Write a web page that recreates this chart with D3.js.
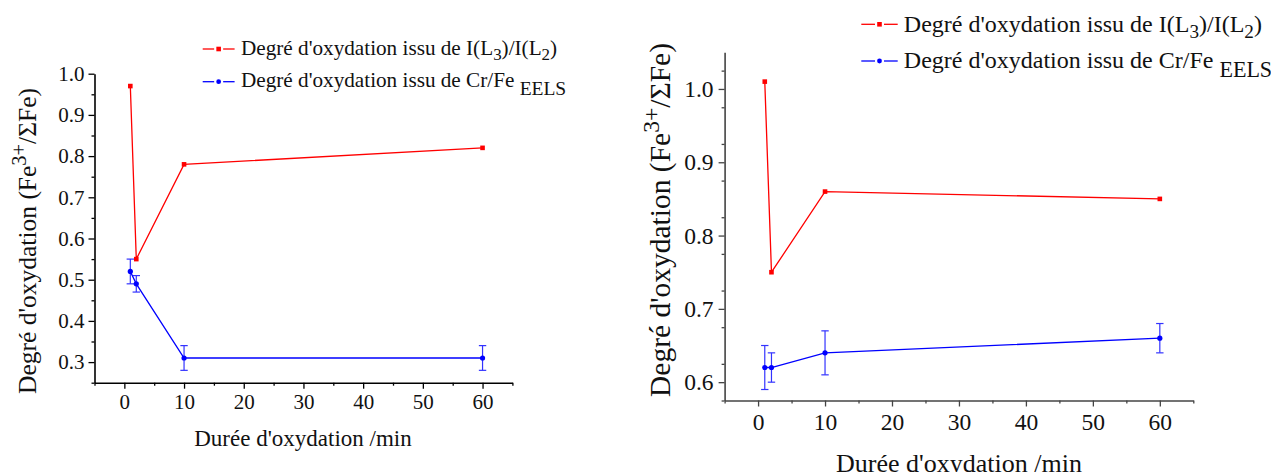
<!DOCTYPE html>
<html>
<head>
<meta charset="utf-8">
<script src="https://cdn.jsdelivr.net/npm/d3@7/dist/d3.min.js"></script>
<style>
  html, body { margin: 0; padding: 0; background: #fff; }
  svg { display: block; }
</style>
</head>
<body>
<svg id="chart" width="1271" height="472"></svg>
<script>
// ---------- DATA ----------
const times = [1, 2, 10, 60];
const xTickValues = [0, 10, 20, 30, 40, 50, 60];

const leftRatio = [0.97, 0.55, 0.78, 0.82];
const leftCrFe = [0.52, 0.49, 0.31, 0.31];
const leftCrFeErr = [0.03, 0.02, 0.03, 0.03];
const leftYTicks = [0.3, 0.4, 0.5, 0.6, 0.7, 0.8, 0.9, 1.0];

const rightRatio = [1.01, 0.75, 0.86, 0.85];
const rightCrFe = [0.62, 0.62, 0.64, 0.66];
const rightCrFeErr = [0.03, 0.02, 0.03, 0.02];
const rightYTicks = [0.6, 0.7, 0.8, 0.9, 1.0];

const xTitle = "Durée d'oxydation /min";
const legendRatioLabel = ["Degré d'oxydation issu de I(L", "3", ")/I(L", "2", ")"];
const legendCrFeLabel = ["Degré d'oxydation issu de Cr/Fe ", "EELS"];

// ---------- RENDER ----------
const FONT = "'Liberation Serif', 'Times New Roman', serif";
const RED = "#ff0000", BLUE = "#0000ff";
const svg = d3.select("#chart");

function range(a, b, step) {
  const out = [];
  for (let v = a; v <= b + 1e-9; v += step) out.push(+v.toFixed(4));
  return out;
}

function drawChart(cfg) {
  const g = svg.append("g");
  const x = d3.scaleLinear().domain(cfg.xDomain).range(cfg.xRange);
  const y = d3.scaleLinear().domain(cfg.yDomain).range(cfg.yRange);

  const xMinor = range(cfg.xDomain[0], cfg.xDomain[1], 5).filter(v => !xTickValues.includes(v));
  const yMinor = range(cfg.yDomain[0], cfg.yDomain[1], 0.05).filter(v => !cfg.yTicks.some(t => Math.abs(t - v) < 1e-6));

  const xAxisG = g.append("g").attr("transform", `translate(0,${cfg.yRange[0]})`);
  xAxisG.call(d3.axisBottom(x).tickValues(xTickValues).tickSize(6).tickPadding(cfg.xPad).tickFormat(d3.format("d")).tickSizeOuter(0));
  xAxisG.append("g").call(d3.axisBottom(x).tickValues(xMinor).tickSize(3).tickFormat("").tickSizeOuter(0)).select(".domain").remove();

  const yAxisG = g.append("g").attr("transform", `translate(${cfg.xRange[0]},0)`);
  yAxisG.call(d3.axisLeft(y).tickValues(cfg.yTicks).tickSize(6).tickPadding(cfg.yPad).tickFormat(d3.format(".1f")).tickSizeOuter(0));
  yAxisG.append("g").call(d3.axisLeft(y).tickValues(yMinor).tickSize(3).tickFormat("").tickSizeOuter(0)).select(".domain").remove();

  [xAxisG, yAxisG].forEach(a => {
    a.attr("font-family", FONT);
    a.selectAll("path.domain").attr("stroke", cfg.axisColor).attr("stroke-width", 1.6);
    a.selectAll(".tick line").attr("stroke", cfg.axisColor).attr("stroke-width", 1.3);
    a.selectAll(".tick text").style("font-family", FONT).attr("font-size", cfg.tickFont).attr("fill", "#111");
  });

  g.append("text")
    .attr("x", cfg.xTitlePos[0]).attr("y", cfg.xTitlePos[1])
    .attr("text-anchor", "middle").style("font-family", FONT).attr("font-size", cfg.xTitleFont).attr("fill", "#111")
    .text(xTitle);

  const yt = g.append("text")
    .attr("transform", `translate(${cfg.yTitlePos[0]},${cfg.yTitlePos[1]}) rotate(-90)`)
    .attr("text-anchor", "middle").style("font-family", FONT).attr("font-size", cfg.yTitleFont).attr("fill", "#111");
  yt.append("tspan").text("Degré d'oxydation (Fe");
  yt.append("tspan").attr("font-size", cfg.yTitleFont * 0.8).attr("dy", -cfg.yTitleFont * 0.38).text("3+");
  yt.append("tspan").attr("dy", cfg.yTitleFont * 0.38).text("/ΣFe)");

  const ratioPts = times.map((t, i) => [t, cfg.ratio[i]]);
  const crPts = times.map((t, i) => [t, cfg.cr[i], cfg.crErr[i]]);
  const line = d3.line().x(d => x(d[0])).y(d => y(d[1]));

  const eb = g.append("g").attr("stroke", "#3333ff").attr("stroke-width", 1.2);
  crPts.forEach(d => {
    const cx = x(d[0]);
    eb.append("line").attr("x1", cx).attr("x2", cx).attr("y1", y(d[1] - d[2])).attr("y2", y(d[1] + d[2]));
    eb.append("line").attr("x1", cx - 3.7).attr("x2", cx + 3.7).attr("y1", y(d[1] - d[2])).attr("y2", y(d[1] - d[2]));
    eb.append("line").attr("x1", cx - 3.7).attr("x2", cx + 3.7).attr("y1", y(d[1] + d[2])).attr("y2", y(d[1] + d[2]));
  });

  g.append("path").datum(crPts).attr("d", line).attr("fill", "none").attr("stroke", BLUE).attr("stroke-width", 1.3);
  g.append("path").datum(ratioPts).attr("d", line).attr("fill", "none").attr("stroke", RED).attr("stroke-width", 1.3);

  g.selectAll(".sq").data(ratioPts).enter().append("rect")
    .attr("x", d => x(d[0]) - 2.3).attr("y", d => y(d[1]) - 2.3).attr("width", 4.6).attr("height", 4.6).attr("fill", RED);
  g.selectAll(".ci").data(crPts).enter().append("circle")
    .attr("cx", d => x(d[0])).attr("cy", d => y(d[1])).attr("r", 2.6).attr("fill", BLUE);

  const L = cfg.legend;
  function legendSymbol(yy, color, shape) {
    const x0 = L.x0, x1 = L.x1, mid = (x0 + x1) / 2;
    g.append("line").attr("x1", x0).attr("x2", mid - 4.5).attr("y1", yy).attr("y2", yy).attr("stroke", color).attr("stroke-width", 1.3);
    g.append("line").attr("x1", mid + 4.5).attr("x2", x1).attr("y1", yy).attr("y2", yy).attr("stroke", color).attr("stroke-width", 1.3);
    if (shape === "sq") g.append("rect").attr("x", mid - 2.3).attr("y", yy - 2.3).attr("width", 4.6).attr("height", 4.6).attr("fill", color);
    else g.append("circle").attr("cx", mid).attr("cy", yy).attr("r", 2.4).attr("fill", color);
  }
  legendSymbol(L.sym[0], RED, "sq");
  legendSymbol(L.sym[1], BLUE, "ci");

  const t1 = g.append("text").attr("x", L.tx).attr("y", L.base[0]).style("font-family", FONT).attr("font-size", L.font).attr("fill", "#111");
  t1.append("tspan").text(legendRatioLabel[0]);
  t1.append("tspan").attr("font-size", L.font * 0.8).attr("dy", L.font * 0.25).text(legendRatioLabel[1]);
  t1.append("tspan").attr("dy", -L.font * 0.25).text(legendRatioLabel[2]);
  t1.append("tspan").attr("font-size", L.font * 0.8).attr("dy", L.font * 0.25).text(legendRatioLabel[3]);
  t1.append("tspan").attr("dy", -L.font * 0.25).text(legendRatioLabel[4]);

  const t2 = g.append("text").attr("x", L.tx).attr("y", L.base[1]).style("font-family", FONT).attr("font-size", L.font).attr("fill", "#111");
  t2.append("tspan").text(legendCrFeLabel[0]);
  t2.append("tspan").attr("font-size", L.font * 0.92).attr("dy", L.font * 0.38).text(legendCrFeLabel[1]);
}

drawChart({
  xDomain: [-5, 65], xRange: [94.5, 512.4],
  yDomain: [0.25, 1.0], yRange: [382.7, 73.7],
  yTicks: leftYTicks,
  ratio: leftRatio, cr: leftCrFe, crErr: leftCrFeErr,
  axisColor: "#000", tickFont: 21, xPad: 5.5, yPad: 4,
  xTitleFont: 23, xTitlePos: [303, 446],
  yTitleFont: 25.5, yTitlePos: [36, 241],
  legend: { x0: 202.7, x1: 234.6, tx: 241, sym: [49, 81.7], base: [54.5, 87.3], font: 21.2 }
});

drawChart({
  xDomain: [-5, 65], xRange: [724.6, 1193.3],
  yDomain: [0.575, 1.05], yRange: [400.5, 52.3],
  yTicks: rightYTicks,
  ratio: rightRatio, cr: rightCrFe, crErr: rightCrFeErr,
  axisColor: "#444", tickFont: 23.5, xPad: 6.5, yPad: 5,
  xTitleFont: 26, xTitlePos: [959, 472],
  yTitleFont: 29.5, yTitlePos: [670, 220],
  legend: { x0: 861.3, x1: 897.7, tx: 903.8, sym: [24.3, 61], base: [31.7, 68.3], font: 24 }
});
</script>
</body>
</html>
